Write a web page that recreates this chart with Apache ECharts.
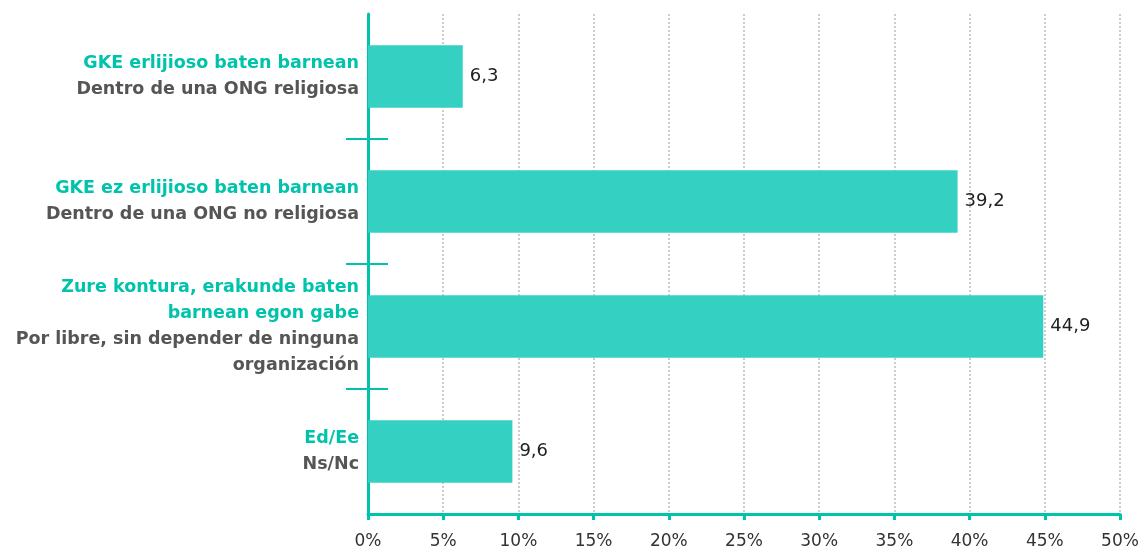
<!DOCTYPE html>
<html>
<head>
<meta charset="utf-8">
<script src="https://cdn.jsdelivr.net/npm/echarts@6/dist/echarts.min.js"></script>
<style>
  html, body { margin: 0; padding: 0; background: #ffffff; }
  #chart { width: 1144px; height: 550px; }
</style>
</head>
<body>
<div id="chart"></div>
<script>
// Basque category names (top line, teal)
const categoriesEu = [
  'GKE erlijioso baten barnean',
  'GKE ez erlijioso baten barnean',
  'Zure kontura, erakunde baten\nbarnean egon gabe',
  'Ed/Ee'
];
// Spanish category names (second line, grey)
const categoriesEs = [
  'Dentro de una ONG religiosa',
  'Dentro de una ONG no religiosa',
  'Por libre, sin depender de ninguna\norganización',
  'Ns/Nc'
];
// Share of answers, percent
const values = [6.3, 39.2, 44.9, 9.6];
// Axis range for the percentage scale
const xMin = 0, xMax = 50, xStep = 5;

const TEAL = '#00c3ab';
const BAR = '#34d0c1';
const GREY = '#555555';
const FONT = 'DejaVu Sans';

function richLines(text, key) {
  return text.split('\n').map(s => '{' + key + '|' + s + '}').join('\n');
}

const categoryKeys = categoriesEu.map((_, i) => 'c' + i);
const labelByKey = {};
categoryKeys.forEach((k, i) => {
  labelByKey[k] = richLines(categoriesEu[i], 'eu') + '\n' + richLines(categoriesEs[i], 'es');
});

const chart = echarts.init(document.getElementById('chart'), null, { renderer: 'canvas' });

// tick positions at the boundaries between categories
const boundaryTicks = [1, 2, 3];

const boundaryAxis = (extra) => Object.assign({
  type: 'value',
  position: 'left',
  offset: 0,
  min: 0,
  max: categoryKeys.length,
  interval: 1,
  inverse: true,
  axisLabel: { show: false },
  splitLine: { show: false }
}, extra);

chart.setOption({
  animation: false,
  grid: { left: 368, right: 24, top: 14, bottom: 35, containLabel: false },
  xAxis: {
    type: 'value',
    position: 'bottom',
    min: xMin,
    max: xMax,
    interval: xStep,
    axisLine: { show: true, onZero: false, lineStyle: { color: TEAL, width: 3 } },
    axisTick: { show: true, length: 6, lineStyle: { color: TEAL, width: 3 } },
    axisLabel: {
      formatter: v => v + '%',
      color: '#333333',
      fontFamily: FONT,
      fontSize: 17,
      margin: 19
    },
    splitLine: { show: true, lineStyle: { color: '#cccccc', width: 2, type: [2, 2] } }
  },
  yAxis: [
    {
      type: 'category',
      position: 'left',
      data: categoryKeys,
      inverse: true,
      axisLine: { show: false },
      axisTick: { show: false },
      axisLabel: {
        margin: 9,
        align: 'right',
        formatter: k => labelByKey[k],
        rich: {
          eu: { color: TEAL, fontFamily: FONT, fontWeight: 'bold', fontSize: 17.5, lineHeight: 26, align: 'right' },
          es: { color: GREY, fontFamily: FONT, fontWeight: 'bold', fontSize: 17.5, lineHeight: 26, align: 'right' }
        }
      },
      splitLine: { show: false }
    },
    boundaryAxis({
      axisLine: { show: true, onZero: false, lineStyle: { color: TEAL, width: 3 } },
      axisTick: { show: true, customValues: boundaryTicks, length: 22, lineStyle: { color: TEAL, width: 2 } }
    }),
    boundaryAxis({
      axisLine: { show: false, onZero: false },
      axisTick: { show: true, inside: true, customValues: boundaryTicks, length: 20, lineStyle: { color: TEAL, width: 2 } }
    })
  ],
  series: [{
    type: 'bar',
    yAxisIndex: 0,
    data: values,
    barCategoryGap: '50%',
    itemStyle: { color: BAR },
    label: {
      show: true,
      position: 'right',
      distance: 7,
      formatter: p => String(p.value).replace('.', ','),
      color: '#222222',
      fontFamily: FONT,
      fontSize: 18
    }
  }]
});
</script>
</body>
</html>
